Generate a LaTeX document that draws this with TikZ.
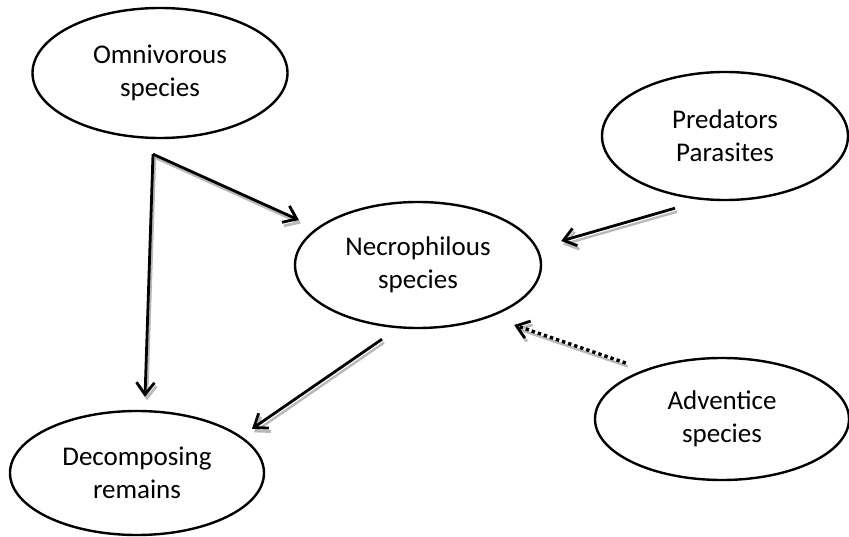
\documentclass[tikz,border=0pt]{standalone}
\usepackage{fontspec}
\setmainfont{Carlito}
\usetikzlibrary{shapes.geometric,arrows.meta,calc}
\begin{document}
\begin{tikzpicture}[x=1pt,y=-1pt,
  blob/.style={draw, ellipse, line width=2.4pt, inner sep=0pt, align=center,
    font=\fontsize{27}{33}\selectfont},
  conn/.style={draw, line width=2.8pt, -{Straight Barb[length=12pt,width=18pt,line width=2.8pt]},
    preaction={draw=gray!55, line width=2.4pt, transform canvas={shift={(2pt,-3.5pt)}}}},
  dotconn/.style={conn, line width=3.4pt, dash pattern=on 3.4pt off 3pt}]
\useasboundingbox (0,0) rectangle (849,537);
\node[blob, minimum width=255pt, minimum height=130pt] (omni) at (160,73) {Omnivorous\\species};
\node[blob, minimum width=246pt, minimum height=128pt] (pred) at (725,136) {Predators\\Parasites};
\node[blob, minimum width=246pt, minimum height=126pt] (necro) at (418,265) {Necrophilous\\species};
\node[blob, minimum width=254pt, minimum height=122pt] (adv) at (722,419) {Adventice\\species};
\node[blob, minimum width=254pt, minimum height=124pt] (decomp) at (137,473) {Decomposing\\remains};
\coordinate (omniout) at ($(omni.south)+(-7,15)$);
\draw[conn] (omniout) -- ($(necro.west)+(5,-45)$);
\draw[conn] (omniout) -- ($(decomp.north)+(8,-13)$);
\draw[conn] ($(pred.south)+(-50,7)$) -- ($(necro.east)+(19,-24)$);
\draw[dotconn] ($(adv.west)+(32,-56)$) -- ($(necro.east)+(-28,60)$);
\draw[conn] ($(necro.south)+(-36,10)$) -- ($(decomp.north)+(115,19)$);
\end{tikzpicture}
\end{document}
